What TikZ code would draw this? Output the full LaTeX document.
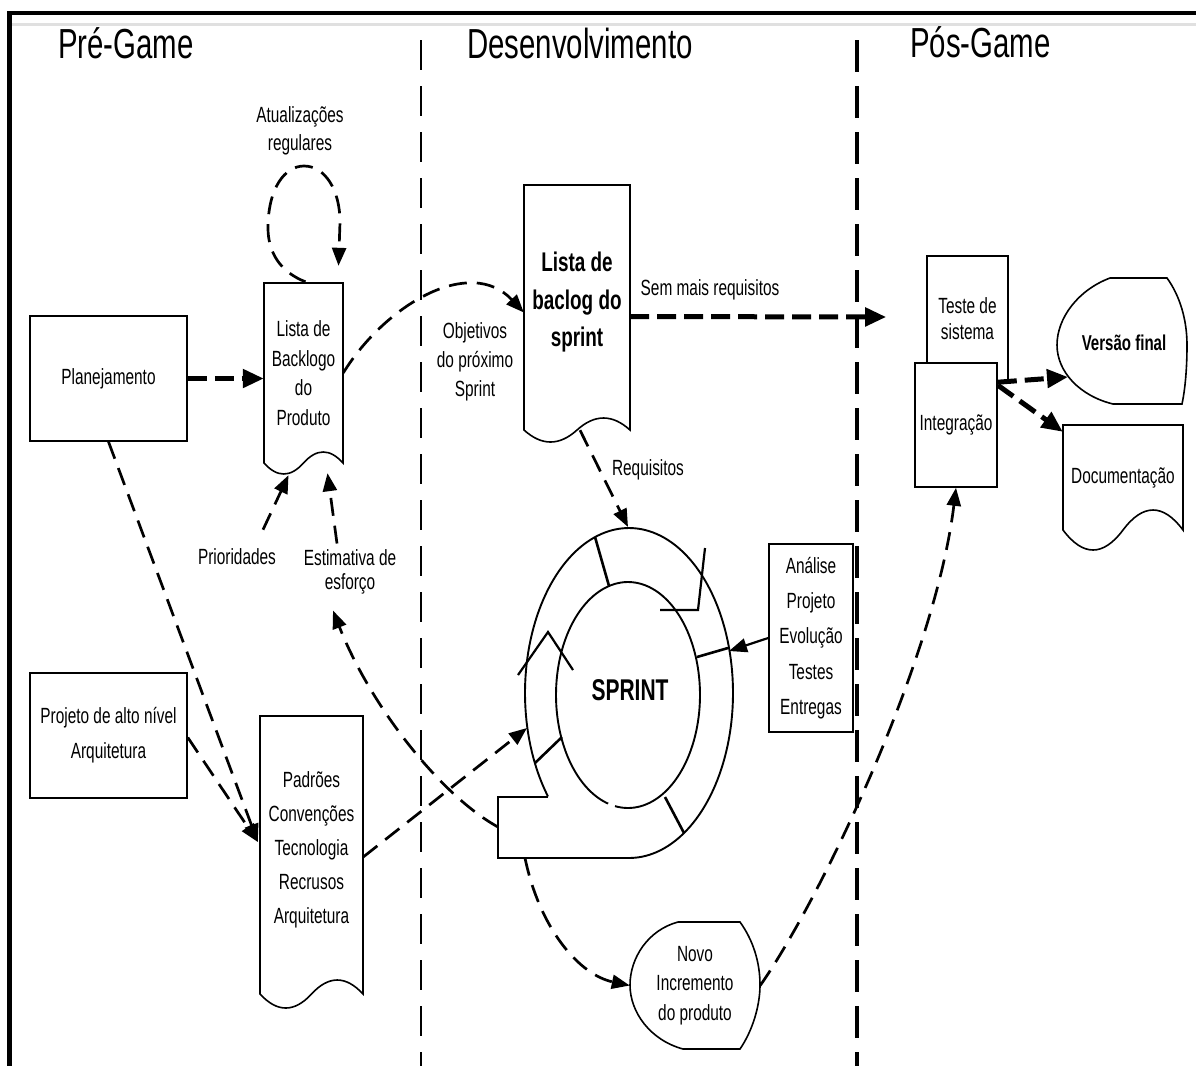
\documentclass[tikz,border=0pt]{standalone}
\usepackage{fontspec}
\setmainfont{Liberation Sans}[FakeStretch=0.7]
\usetikzlibrary{arrows.meta,calc}

% document symbol: flat top, wavy bottom (left, top, right, bottom line, wave amplitude)
\newcommand\docoutline[5]{%
  \draw[line width=1.6pt, fill=white] (#1,#2) -- (#3,#2) -- (#3,#4)
    .. controls ({#3-(#3-#1)/6},{#4-4*#5/3}) and ({#3-(#3-#1)/3},{#4-4*#5/3}) .. ({(#1+#3)/2},#4)
    .. controls ({#1+(#3-#1)/3},{#4+4*#5/3}) and ({#1+(#3-#1)/6},{#4+4*#5/3}) .. (#1,#4) -- cycle;}

\tikzset{
  ptxt/.style={font=\fontsize{22}{29.5}\selectfont},
  pbox/.style={draw, line width=1.6pt, fill=white, inner sep=0pt, align=center, ptxt},
  parea/.style={inner sep=0pt, align=center, ptxt},
  plbl/.style={inner sep=0pt, align=center, ptxt},
  phdr/.style={inner sep=0pt, font=\fontsize{42}{50}\selectfont},
  dflow/.style={line width=2.7pt, dash pattern=on 18pt off 10pt, -{Triangle[length=18pt,width=14pt]}},
  dheavy/.style={line width=5pt, dash pattern=on 19pt off 8pt, -{Triangle[length=21pt,width=18pt]}},
  sflow/.style={line width=2.2pt, -{Triangle[length=18pt,width=14pt]}},
  ring/.style={line width=1.9pt},
  divthin/.style={line width=1.6pt, dash pattern=on 30pt off 16pt},
  divthick/.style={line width=3.2pt, dash pattern=on 32pt off 14pt},
}

\begin{document}
\begin{tikzpicture}[x=1pt,y=-1pt]
\useasboundingbox (0,0) rectangle (1196,1066);
\fill[white] (0,0) rectangle (1196,1066);

% frame
\fill[black] (7,11) rectangle (1196,15);
\fill[black] (7,11) rectangle (12,1066);
\draw[black!12, line width=3pt] (12,24) -- (1196,24);

% phase headings
\node[phdr, anchor=base west] (h1) at (58,58) {Pré-Game};
\node[phdr, anchor=base west] (h2) at (467,58) {Desenvolvimento};
\node[phdr, anchor=base west] (h3) at (910,57) {Pós-Game};

% phase separators
\draw[divthin] (421,40) -- (421,1066);
\draw[divthick] (857,40) -- (857,1066);

% ---------- Pré-Game ----------
\node[pbox, minimum width=157pt, minimum height=125pt] (plan) at (108.5,378.5) {Planejamento};
\node[pbox, minimum width=157pt, minimum height=125pt, font=\fontsize{22}{35}\selectfont] (pj) at (108.5,735.5) {Projeto de alto nível\\Arquitetura};

\docoutline{264}{283}{343}{463}{11}
\node[parea, minimum width=79pt, minimum height=180pt] (lb) at (303.5,373) {Lista de\\Backlogo\\do\\Produto};

\docoutline{260}{716}{363}{994}{14}
\node[parea, minimum width=103pt, minimum height=268pt, font=\fontsize{22}{34}\selectfont] (pd) at (311.5,850) {Padrões\\Convenções\\Tecnologia\\Recrusos\\Arquitetura};

\node[plbl, font=\fontsize{22}{28}\selectfont] (atu) at (300,131) {Atualizações\\regulares};
\node[plbl] (pri) at (237,557) {Prioridades};
\node[plbl, font=\fontsize{22}{24}\selectfont] (est) at (350,572) {Estimativa de\\esforço};

% ---------- Desenvolvimento ----------
\docoutline{524}{185}{630}{430}{12}
\node[parea, minimum width=106pt, minimum height=235pt, font=\bfseries\fontsize{27}{37.5}\selectfont] (ls) at (577,302.5) {Lista de\\baclog do\\sprint};

\node[plbl, font=\fontsize{22}{29}\selectfont] (obj) at (475,362) {Objetivos\\do próximo\\Sprint};
\node[plbl] (sem) at (710,290) {Sem mais requisitos};
\node[plbl] (req) at (648,470) {Requisitos};

% sprint cycle
\draw[ring] plot[domain=141.2:450, samples=140, variable=\t] ({629+104*cos(\t)},{693+165*sin(\t)});
\draw[ring] (548,797) -- (498,797) -- (498,858) -- (629,858);
\draw[ring] plot[domain=106:460.4, samples=140, variable=\t] ({628+72*cos(\t)},{695+113*sin(\t)});
\draw[line width=2.6pt] (595,537) -- (609,586);
\draw[line width=2.6pt] (697,657) -- (728,648);
\draw[line width=2.6pt] (535,763) -- (562,737);
\draw[line width=2.6pt] (665,797) -- (684,833);
\draw[line width=2.2pt] (705,548) -- (698,610) -- (660,610);
\draw[line width=2.2pt] (518,675) -- (548,632) -- (573,670);
\node[inner sep=0pt, font=\bfseries\fontsize{30}{36}\selectfont] (sp) at (630,690) {SPRINT};

\coordinate (ringN) at (628,527);
\coordinate (ringE) at (729,651);
\coordinate (ringW) at (527,728);
\coordinate (tailW) at (498,827);
\coordinate (tailS) at (525,858);

\node[pbox, minimum width=84pt, minimum height=188pt, font=\fontsize{22}{35.2}\selectfont] (an) at (811,638) {Análise\\Projeto\\Evolução\\Testes\\Entregas};

\draw[line width=1.6pt, fill=white] (740,922) -- (678,922)
  .. controls (648,930) and (630,958) .. (630,985)
  .. controls (630,1012) and (650,1040) .. (683,1049) -- (740,1049)
  .. controls (753,1030) and (760,1005) .. (760,985)
  .. controls (760,962) and (753,940) .. (740,922) -- cycle;
\node[parea, minimum width=130pt, minimum height=127pt] (nv) at (695,985.5) {Novo\\Incremento\\do produto};

% ---------- Pós-Game ----------
\node[pbox, minimum width=81pt, minimum height=126pt, font=\fontsize{22}{26}\selectfont] (ts) at (967.5,319) {Teste de\\sistema};
\node[pbox, minimum width=82pt, minimum height=124pt] (ig) at (956,425) {Integração};

\draw[line width=1.6pt, fill=white] (1167,278) -- (1110,278)
  .. controls (1078,290) and (1057,318) .. (1057,345)
  .. controls (1057,372) and (1080,396) .. (1113,404) -- (1182,404)
  .. controls (1186,385) and (1187,362) .. (1187,345)
  .. controls (1187,320) and (1180,296) .. (1167,278) -- cycle;
\node[parea, minimum width=129pt, minimum height=126pt, font=\bfseries\fontsize{21.5}{24}\selectfont] (vf) at (1124,343) {Versão final};

\docoutline{1063}{425}{1183}{530}{20}
\node[parea, minimum width=120pt, minimum height=105pt] (dc) at (1123,477.5) {Documentação};

% ---------- connectors ----------
\draw[dheavy] (plan.east) -- (plan.east -| lb.west);
\draw[dflow] (plan.south) -- ($(pd.west)+(-2,-8)$);
\draw[dflow] ($(pj.east)+(0,2)$) -- ($(pd.west)+(-2,-8)$);
\draw[dflow] ($(lb.north)+(2,-1)$)
  .. controls (280,272) and (268,252) .. (268,228)
  .. controls (268,188) and (285,166) .. (304,166)
  .. controls (325,166) and (340,190) .. (340,222)
  -- ($(lb.north)+(35,-17)$);
\draw[dflow] ($(pri.north)+(26,-19)$) -- ($(lb.south)+(-15,12)$);
\draw[dflow] ($(est.north)+(-13,-6)$) -- ($(lb.south)+(24,10)$);
\draw[dflow] (lb.east) .. controls (385,305) and (470,255) .. ($(ls.west)+(0,10)$);
\draw[dflow] ($(ls.south)+(3,10)$) -- (ringN);
\draw[dheavy] ($(ls.east)+(0,14)$) -- ($(ts.west)+(-40,-2)$);
\draw[sflow] (an.west) -- (ringE);
\draw[dflow] ($(pd.east)+(0,7)$) -- (ringW);
\draw[dflow] (tailW) .. controls (440,795) and (370,705) .. ($(est.south)+(-17,16)$);
\draw[dflow] (tailS) .. controls (540,930) and (580,975) .. (nv.west);
\draw[dflow] (nv.east) .. controls (820,900) and (935,660) .. (ig.south);
\draw[dheavy] ($(ig.north east)+(0,20)$) -- ($(vf.center)+(-56,34)$);
\draw[dheavy] ($(ig.north east)+(0,23)$) -- ($(dc.north west)+(0,7)$);
\end{tikzpicture}
\end{document}
